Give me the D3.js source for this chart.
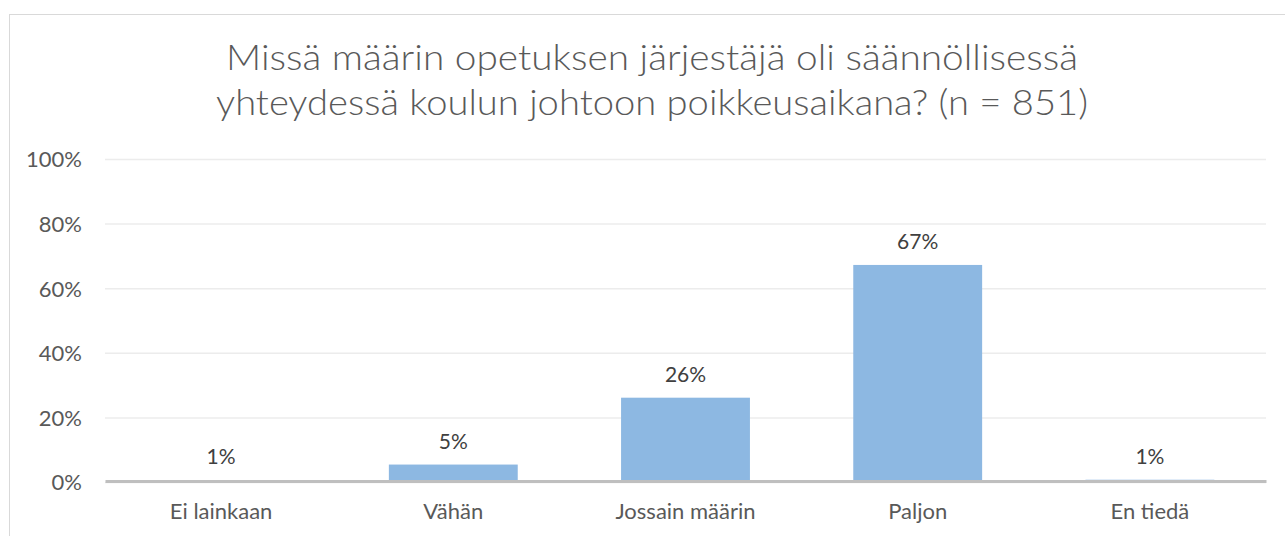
<!DOCTYPE html>
<html>
<head>
<meta charset="utf-8">
<script src="https://cdn.jsdelivr.net/npm/d3@7"></script>
<style>
  body { margin: 0; background: #fff; }
  svg { display: block; }
</style>
</head>
<body>
<svg width="1285" height="536"></svg>
<script>
// data
const categories = ["Ei lainkaan", "Vähän", "Jossain määrin", "Paljon", "En tiedä"];
const values = [0.6, 5.4, 26.1, 67.2, 0.7];
const labels = ["1%", "5%", "26%", "67%", "1%"];
const yTicks = [0, 20, 40, 60, 80, 100];
const titleLines = [
  "Missä määrin opetuksen järjestäjä oli säännöllisessä",
  "yhteydessä koulun johtoon poikkeusaikana? (n = 851)"
];
const titleWidths = [852, 872];

const svg = d3.select("svg");
const font = "Lato, 'Open Sans', sans-serif";

// chart frame
svg.append("rect")
   .attr("x", 9.5)
   .attr("y", 14.5)
   .attr("width", 1300)
   .attr("height", 600)
   .attr("fill", "#fff")
   .attr("stroke", "#d9d9d9")
   .attr("stroke-width", 1);

// title
svg.append("g").selectAll("text")
   .data(titleLines)
   .join("text")
   .attr("x", 652)
   .attr("y", (d, i) => 70 + i * 45)
   .attr("text-anchor", "middle")
   .attr("font-family", font)
   .attr("font-size", "36px")
   .attr("font-weight", 300)
   .attr("fill", "#595959")
   .attr("textLength", (d, i) => titleWidths[i])
   .attr("lengthAdjust", "spacingAndGlyphs")
   .text(d => d);

const x = d3.scaleBand()
   .domain(categories)
   .range([105, 1266])
   .paddingInner(0.445)
   .paddingOuter(0.2225);

const y = d3.scaleLinear()
   .domain([0, 100])
   .range([482, 159]);

// gridlines
svg.append("g")
   .attr("transform", "translate(105,0)")
   .call(d3.axisLeft(y).tickValues(yTicks).tickSize(-1161).tickFormat(""))
   .call(g => g.select(".domain").remove())
   .call(g => g.selectAll("line").attr("stroke", "#ececec").attr("stroke-width", 1.5));

// y tick labels
svg.append("g")
   .attr("transform", "translate(82,0)")
   .call(d3.axisLeft(y).tickValues(yTicks).tickSize(0).tickPadding(0).tickFormat(d => d + "%"))
   .call(g => g.select(".domain").remove())
   .call(g => g.selectAll("text")
      .attr("font-family", font)
      .attr("font-size", "22px")
      .attr("dy", "0.36em")
      .attr("fill", "#595959"));

// bars
svg.append("g").selectAll("rect")
   .data(values)
   .join("rect")
   .attr("x", (d, i) => x(categories[i]))
   .attr("y", d => y(d))
   .attr("width", x.bandwidth())
   .attr("height", d => y(0) - y(d))
   .attr("fill", "#8db8e2");

// value labels
svg.append("g").selectAll("text")
   .data(values)
   .join("text")
   .attr("x", (d, i) => x(categories[i]) + x.bandwidth() / 2)
   .attr("y", d => y(d) - 16)
   .attr("text-anchor", "middle")
   .attr("font-family", font)
   .attr("font-size", "21px")
   .attr("fill", "#404040")
   .text((d, i) => labels[i]);

// x axis
svg.append("g")
   .attr("transform", "translate(0,481)")
   .call(d3.axisBottom(x).tickSize(0).tickPadding(22))
   .call(g => g.select(".domain").attr("stroke", "#bfbfbf").attr("stroke-width", 3))
   .call(g => g.selectAll("text")
      .attr("font-family", font)
      .attr("font-size", "22px")
      .attr("fill", "#595959"));
</script>
</body>
</html>
